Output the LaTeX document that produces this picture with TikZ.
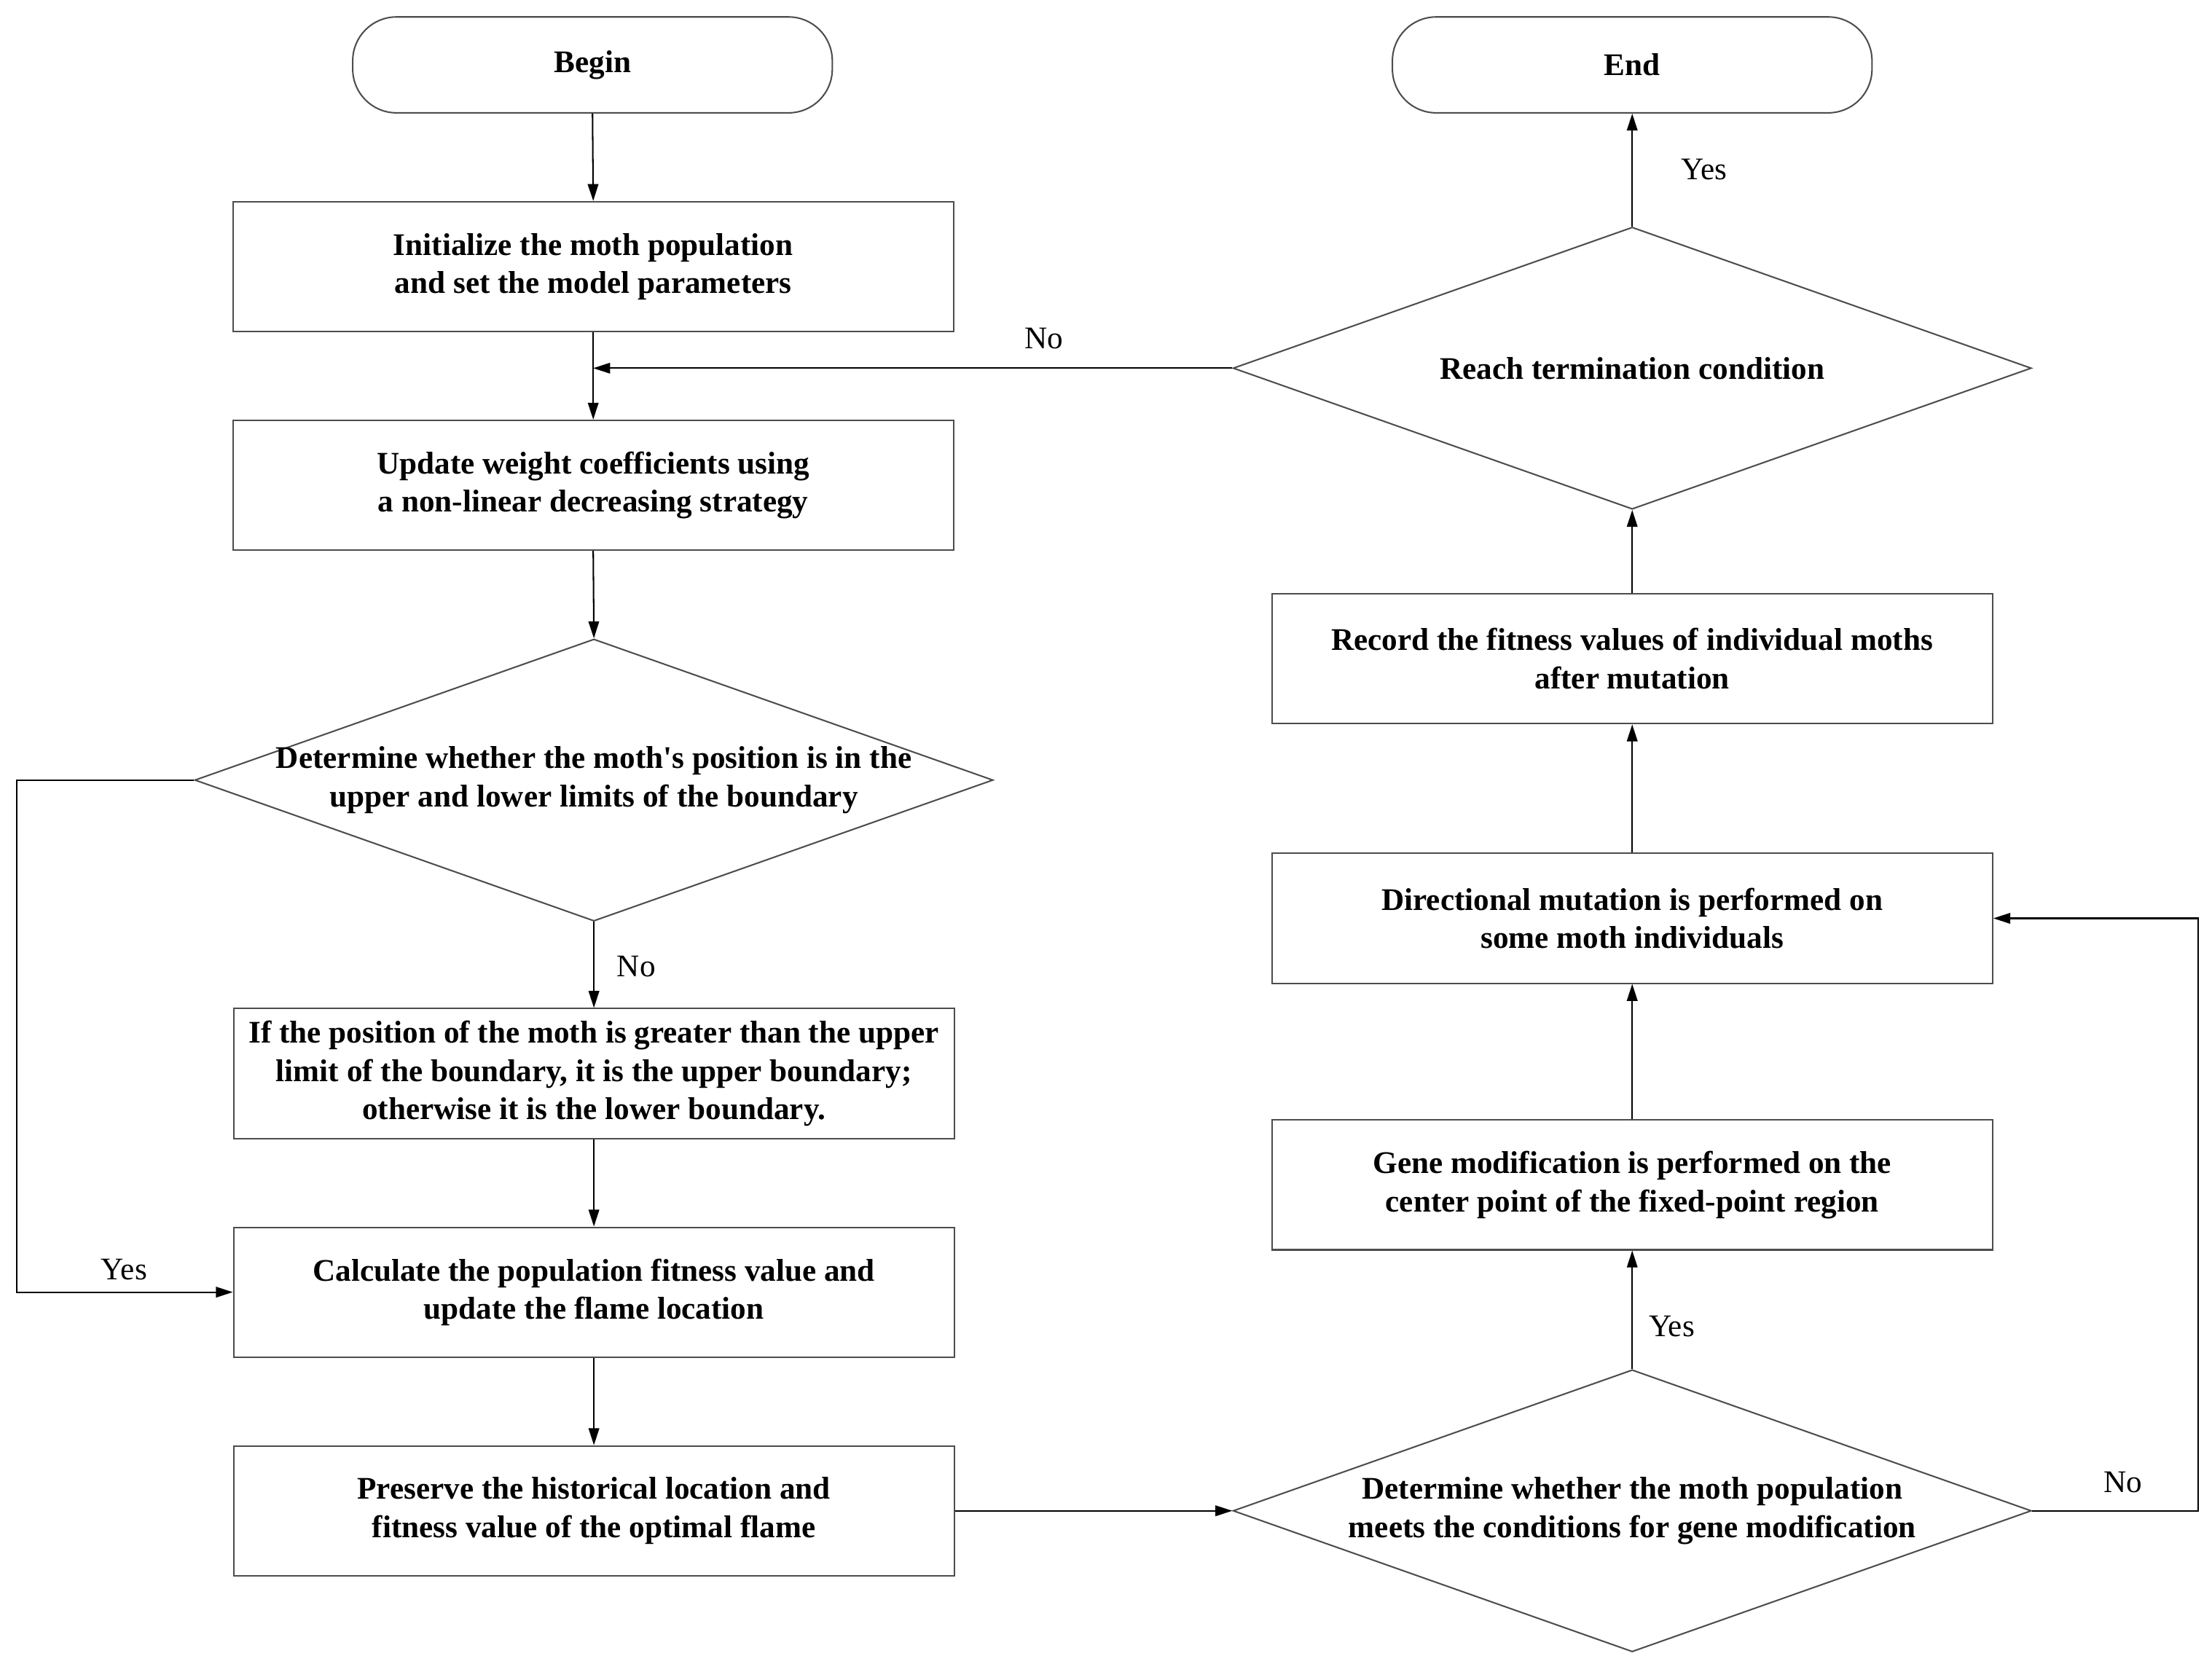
\documentclass[tikz,border=0pt]{standalone}
\usepackage{fontspec}
\setmainfont{Liberation Serif}
\usetikzlibrary{shapes.geometric,arrows.meta}
\begin{document}
\begin{tikzpicture}[x=0.02cm,y=-0.02cm,
  every node/.style={font=\bfseries\fontsize{12.7}{15.4}\selectfont},
  procbox/.style={draw=black!70,line width=0.6pt,rectangle,minimum width=10.22cm,minimum height=1.84cm,align=center,inner sep=0pt},
  termbox/.style={draw=black!70,line width=0.6pt,rectangle,rounded corners=0.62cm,minimum width=6.8cm,minimum height=1.36cm,align=center,inner sep=0pt},
  decbox/.style={draw=black!70,line width=0.6pt,diamond,minimum width=11.32cm,minimum height=4cm,inner sep=0pt},
  dectext/.style={align=center,inner sep=0pt},
  lbl/.style={font=\fontsize{12.7}{15.4}\selectfont,inner sep=0pt},
  arr/.style={draw=black,line width=0.6pt,-{Triangle[length=0.24cm,width=0.15cm]}},
  ln/.style={draw=black,line width=0.6pt}]
\useasboundingbox (0,0) rectangle (1568,1179.6);

\node[termbox] (begin) at (420,46) {Begin};
\node[termbox] (end) at (1157,46) {End};

\node[procbox] (b1) at (420.5,189) {Initialize the moth population\\and set the model parameters};
\node[procbox] (b2) at (420.5,344) {Update weight coefficients using\\a non-linear decreasing strategy};
\node[decbox] (d1) at (421,553) {};
\node[dectext] (d1t) at (421,553) {Determine whether the moth\textquotesingle s position is in the\\upper and lower limits of the boundary};
\node[procbox] (b3) at (421,761) {If the position of the moth is greater than the upper\\limit of the boundary, it is the upper boundary;\\otherwise it is the lower boundary.};
\node[procbox] (b4) at (421,916) {Calculate the population fitness value and\\update the flame location};
\node[procbox] (b5) at (421,1071) {Preserve the historical location and\\fitness value of the optimal flame};

\node[decbox] (d2) at (1157,1071) {};
\node[dectext] (d2t) at (1157,1071) {Determine whether the moth population\\meets the conditions for gene modification};
\node[procbox] (b6) at (1157,840) {Gene modification is performed on the\\center point of the fixed-point region};
\node[procbox] (b7) at (1157,651) {Directional mutation is performed on\\some moth individuals};
\node[procbox] (b8) at (1157,467) {Record the fitness values of individual moths\\after mutation};
\node[decbox] (d3) at (1157,261) {};
\node[dectext] (d3t) at (1157,261) {Reach termination condition};

\coordinate (lx) at (12,553);
\coordinate (rx) at (1558,1071);
\coordinate (jn) at (420.5,261);

\draw[arr] (begin.south) -- (b1.north);
\draw[arr] (b1.south) -- (b2.north);
\draw[arr] (b2.south) -- (d1.north);
\draw[arr] (d1.south) -- (b3.north);
\draw[arr] (b3.south) -- (b4.north);
\draw[arr] (b4.south) -- (b5.north);
\draw[arr] (d1.west) -- (lx) |- (b4.west);
\draw[arr] (b5.east) -- (d2.west);
\draw[arr] (d2.north) -- (b6.south);
\draw[arr] (d2.east) -- (rx) |- (b7.east);
\draw[arr] (b6.north) -- (b7.south);
\draw[arr] (b7.north) -- (b8.south);
\draw[arr] (b8.north) -- (d3.south);
\draw[arr] (d3.north) -- (end.south);
\draw[arr] (d3.west) -- (jn);

\node[lbl] (l1) at (451,685) {No};
\node[lbl] (l2) at (88,900) {Yes};
\node[lbl] (l3) at (740,240) {No};
\node[lbl] (l4) at (1208,120) {Yes};
\node[lbl] (l5) at (1185,940) {Yes};
\node[lbl] (l6) at (1505,1051) {No};
\end{tikzpicture}
\end{document}
